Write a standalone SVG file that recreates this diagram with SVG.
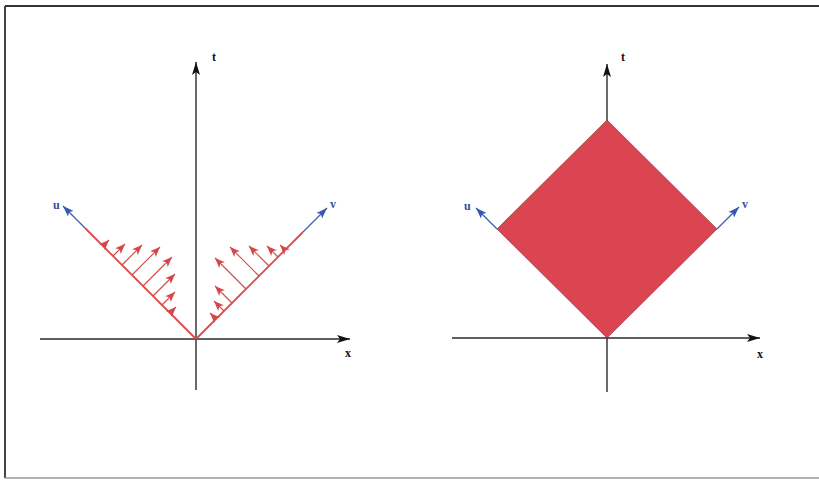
<svg xmlns="http://www.w3.org/2000/svg" width="819" height="480" viewBox="0 0 819 480">
<style>
.axis{stroke:#2a2a2a;stroke-width:1.4;fill:none}
.red{stroke:#dd4a48;stroke-width:1.8;fill:none}
.redv{stroke:#cf4a46;stroke-width:1.1;fill:none}
.blue{stroke:#3d5fae;stroke-width:1.2;fill:none}
.lbl{font-family:"Liberation Serif",serif;font-weight:bold;font-size:12px}
.lk{fill:#111}
.lb{fill:#2e4f9e}
</style>
<defs>
<marker id="ax" markerUnits="userSpaceOnUse" markerWidth="14" markerHeight="10" refX="13" refY="5" orient="auto"><path d="M0,1 L13,5 L0,9 L3,5 z" fill="#111"/></marker>
<marker id="rd" markerUnits="userSpaceOnUse" markerWidth="11" markerHeight="9" refX="10" refY="4.5" orient="auto"><path d="M0,0.5 L10,4.5 L0,8.5 L2.5,4.5 z" fill="#d6454a"/></marker>
<marker id="bl" markerUnits="userSpaceOnUse" markerWidth="12" markerHeight="10" refX="11" refY="5" orient="auto"><path d="M0,1 L11,5 L0,9 L2.5,5 z" fill="#3458b0"/></marker>
</defs>
<rect width="819" height="480" fill="#fff"/>
<g id="frame">
<line x1="5" y1="6" x2="819" y2="6" stroke="#333" stroke-width="2"/>
<line x1="5" y1="6" x2="5" y2="478" stroke="#444" stroke-width="2"/>
<line x1="5" y1="478" x2="819" y2="478" stroke="#999" stroke-width="1.5"/>
</g>
<g id="left-diagram">
<g id="left-axes">
<line class="axis" x1="196" y1="390" x2="196" y2="62" marker-end="url(#ax)"/>
<line class="axis" x1="40" y1="339" x2="350" y2="339" marker-end="url(#ax)"/>
<text class="lbl lk" x="212" y="61">t</text>
<text class="lbl lk" x="345" y="357">x</text>
</g>
<g id="left-u">
<line class="red" x1="196" y1="339" x2="85" y2="228"/>
<line class="blue" x1="85" y1="228" x2="63" y2="206" marker-end="url(#bl)"/>
<text class="lbl lb" x="53" y="209">u</text>
</g>
<g id="left-v">
<line class="red" x1="196" y1="339" x2="303" y2="232"/>
<line class="blue" x1="303" y1="232" x2="327" y2="208" marker-end="url(#bl)"/>
<text class="lbl lb" x="330" y="208">v</text>
</g>
<g id="left-u-arrows">
<line class="redv" x1="170" y1="313" x2="176" y2="307" marker-end="url(#rd)"/>
<line class="redv" x1="162" y1="305" x2="175" y2="292" marker-end="url(#rd)"/>
<line class="redv" x1="153" y1="296" x2="175" y2="274" marker-end="url(#rd)"/>
<line class="redv" x1="143" y1="286" x2="172" y2="257" marker-end="url(#rd)"/>
<line class="redv" x1="132" y1="275" x2="160" y2="247" marker-end="url(#rd)"/>
<line class="redv" x1="122" y1="265" x2="142" y2="245" marker-end="url(#rd)"/>
<line class="redv" x1="113" y1="256" x2="125" y2="244" marker-end="url(#rd)"/>
<line class="redv" x1="103" y1="246" x2="109" y2="240" marker-end="url(#rd)"/>
</g>
<g id="left-v-arrows">
<line class="redv" x1="216" y1="319" x2="210" y2="313" marker-end="url(#rd)"/>
<line class="redv" x1="224" y1="311" x2="214" y2="301" marker-end="url(#rd)"/>
<line class="redv" x1="232" y1="303" x2="215" y2="286" marker-end="url(#rd)"/>
<line class="redv" x1="246" y1="289" x2="215" y2="258" marker-end="url(#rd)"/>
<line class="redv" x1="259" y1="276" x2="230" y2="247" marker-end="url(#rd)"/>
<line class="redv" x1="269" y1="266" x2="249" y2="246" marker-end="url(#rd)"/>
<line class="redv" x1="278" y1="257" x2="267" y2="246" marker-end="url(#rd)"/>
<line class="redv" x1="285" y1="250" x2="280" y2="245" marker-end="url(#rd)"/>
</g>
</g>
<g id="right-diagram">
<g id="right-axes">
<line class="axis" x1="607" y1="392" x2="607" y2="64" marker-end="url(#ax)"/>
<line class="axis" x1="452" y1="338" x2="760" y2="338" marker-end="url(#ax)"/>
<text class="lbl lk" x="621" y="61">t</text>
<text class="lbl lk" x="757" y="358">x</text>
</g>
<g id="diamond">
<polygon points="607,120 717,229 607,338 497,229" fill="#db4552" stroke="#8a2a30" stroke-width="0.6"/>
</g>
<g id="right-u">
<line class="blue" x1="497" y1="229" x2="476" y2="208" marker-end="url(#bl)"/>
<text class="lbl lb" x="464" y="210">u</text>
</g>
<g id="right-v">
<line class="blue" x1="717" y1="229" x2="739" y2="207" marker-end="url(#bl)"/>
<text class="lbl lb" x="742" y="208">v</text>
</g>
</g>
</svg>
